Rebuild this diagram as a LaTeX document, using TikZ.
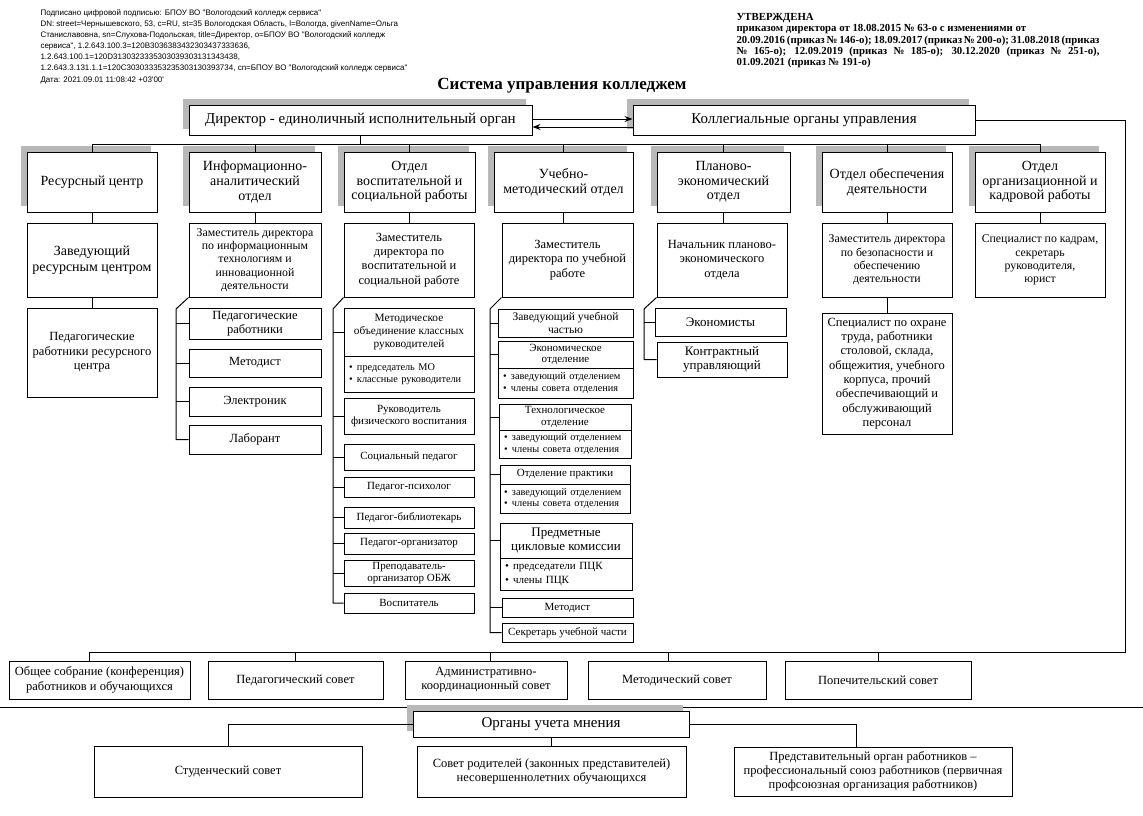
\documentclass[tikz,border=0pt]{standalone}
\usepackage{fontspec}
\setmainfont{Liberation Serif}
\newfontfamily\signfont{Liberation Sans}
\usetikzlibrary{arrows.meta,shadows}
\newcommand\fs[2]{\fontsize{#1}{#2}\selectfont}
\newcommand\bl{\makebox[8pt][l]{\textbullet}}

\begin{document}
\begin{tikzpicture}[x=1pt,y=-1pt,>=Stealth,line width=1pt,
  box/.style={draw,fill=white,align=center,inner sep=1pt},
  shd/.style={drop shadow={shadow xshift=-6pt,shadow yshift=6pt,fill=black!28,opacity=1}},
  rc/.style n args={4}{at={({(#1+#3)/2},{(#2+#4)/2})},minimum width={#3-#1},minimum height={#4-#2}},
  lst/.style={draw,fill=white,align=left,inner xsep=0pt,inner ysep=1pt,text width=#1,font=\fs{10.3}{11.5}},
  fbig/.style={font=\fs{15}{17}},
  fdep/.style={font=\fs{14}{14.7}},
  fmid/.style={font=\fs{12.5}{14.3}},
  fsm/.style={font=\fs{11.8}{13.3}},
  ftn/.style={font=\fs{11}{12.4}}]
  \useasboundingbox (0,0) rectangle (1143,815);

  \node[anchor=north west,align=left,inner sep=0,font=\signfont\fs{8}{11.1}] (sig) at (40,9)
    {Подписано цифровой подписью: БПОУ ВО "Вологодский колледж сервиса"\\
     DN: street=Чернышевского, 53, c=RU, st=35 Вологодская Область, l=Вологда, givenName=Ольга\\
     Станиславовна, sn=Слухова-Подольская, title=Директор, o=БПОУ ВО "Вологодский колледж\\
     сервиса", 1.2.643.100.3=120B3036383432303437333636,\\
     1.2.643.100.1=120D3130323335303039303131343438,\\
     1.2.643.3.131.1.1=120C303033353235303130393734, cn=БПОУ ВО "Вологодский колледж сервиса"\\
     Дата: 2021.09.01 11:08:42 +03\textquotesingle 00\textquotesingle};
  \node[anchor=north west,align=left,inner sep=0,font=\bfseries\fs{10.8}{11.3}] (utv) at (736,13)
    {УТВЕРЖДЕНА\\
     приказом директора от 18.08.2015 № 63-о с изменениями от\\
     \makebox[363pt][s]{20.09.2016 (приказ № 146-о); 18.09.2017 (приказ № 200-о); 31.08.2018 (приказ}\\
     \makebox[363pt][s]{№ 165-о); 12.09.2019 (приказ № 185-о); 30.12.2020 (приказ № 251-о),}\\
     01.09.2021 (приказ № 191-о)};
  \node[font=\bfseries\fs{17}{20}] (ttl) at (562,86) {Система управления колледжем};

  \node[box,shd,fbig,rc={189}{105}{532}{135}] (dir) {Директор - единоличный исполнительный орган};
  \node[box,shd,fbig,rc={633}{105}{975}{135}] (kol) {Коллегиальные органы управления};
  \draw[-{Stealth[length=8pt,width=6pt]}] ([yshift=1pt]dir.east) -- ([yshift=1pt]kol.west);
  \draw[-{Stealth[length=8pt,width=6pt]}] ([yshift=-7pt]kol.west) -- ([yshift=-7pt]dir.east);

  \node[box,shd,fdep,rc={27}{152}{157}{212}] (d1) {Ресурсный центр};
  \node[box,shd,fdep,rc={189}{152}{321}{212}] (d2) {Информационно-\\аналитический\\отдел};
  \node[box,shd,fdep,rc={344}{152}{475}{212}] (d3) {Отдел\\воспитательной и\\социальной работы};
  \node[box,shd,fdep,rc={494}{152}{633}{212}] (d4) {Учебно-\\методический отдел};
  \node[box,shd,fdep,rc={657}{152}{790}{212}] (d5) {Планово-\\экономический\\отдел};
  \node[box,shd,fdep,rc={822}{152}{952}{212}] (d6) {Отдел обеспечения\\деятельности};
  \node[box,shd,fdep,rc={975}{152}{1105}{212}] (d7) {Отдел\\организационной и\\кадровой работы};
  \coordinate (bus) at (0,144);
  \draw (dir.south) -- (dir.south |- bus);
  \draw (d1.north) -- (d1.north |- bus) -- (d7.north |- bus) -- (d7.north);
  \foreach \n in {d2,d3,d4,d5,d6} \draw (\n.north) -- (\n.north |- bus);

  \node[box,font=\fs{14}{16},rc={27}{223}{157}{297}] (z1) {Заведующий\\ресурсным центром};
  \node[box,fsm,rc={189}{223}{321}{297}] (z2) {Заместитель директора\\по информационным\\технологиям и\\инновационной\\деятельности};
  \node[box,fmid,rc={344}{223}{474}{297}] (z3) {Заместитель\\директора по\\воспитательной и\\социальной работе};
  \node[box,fmid,rc={502}{223}{633}{297}] (z4) {Заместитель\\директора по учебной\\работе};
  \node[box,fmid,rc={657}{223}{787}{297}] (z5) {Начальник планово-\\экономического\\отдела};
  \node[box,fsm,rc={822}{223}{952}{297}] (z6) {Заместитель директора\\по безопасности и\\обеспечению\\деятельности};
  \node[box,fsm,rc={975}{223}{1105}{297}] (z7) {Специалист по кадрам,\\секретарь\\руководителя,\\юрист};
  \foreach \i in {1,...,7} \draw (d\i.south) -- (d\i.south |- z\i.north);

  \node[box,fmid,rc={27}{308}{157}{397}] (p1) {Педагогические\\работники ресурсного\\центра};
  \draw (z1.south) -- (z1.south |- p1.north);

  \node[box,fmid,rc={189}{308}{321}{339}] (i1) {Педагогические\\работники};
  \node[box,fmid,rc={189}{349}{321}{377}] (i2) {Методист};
  \node[box,fmid,rc={189}{387}{321}{416}] (i3) {Электроник};
  \node[box,fmid,rc={189}{425}{321}{454}] (i4) {Лаборант};
  \coordinate (br2) at (176,309);
  \draw (z2.south west) -- (br2) |- (i4.west);
  \foreach \n in {i1,i2,i3} \draw (\n.west) -- (\n.west -| br2);

  \node[box,font=\fs{11.3}{12.6},rc={344}{308}{474}{356}] (v1) {Методическое\\объединение классных\\руководителей};
  \node[lst=120pt,rc={344}{356}{474}{392}] (v1l) {\bl председатель МО\\\bl классные руководители};
  \node[box,ftn,rc={344}{398}{474}{434}] (v2) {Руководитель\\физического воспитания};
  \node[box,ftn,rc={344}{444}{474}{470}] (v3) {Социальный педагог};
  \node[box,ftn,rc={344}{477}{474}{497}] (v4) {Педагог-психолог};
  \node[box,ftn,rc={344}{507}{474}{528}] (v5) {Педагог-библиотекарь};
  \node[box,ftn,rc={344}{533}{474}{554}] (v6) {Педагог-организатор};
  \node[box,font=\fs{11}{12},rc={344}{560}{474}{586}] (v7) {Преподаватель-\\организатор ОБЖ};
  \node[box,ftn,rc={344}{593}{474}{613}] (v8) {Воспитатель};
  \coordinate (br3) at (333,309);
  \draw (z3.south west) -- (br3) |- (v8.west);
  \foreach \n in {v1,v2,v3,v4,v5,v6,v7} \draw (\n.west) -- (\n.west -| br3);

  \node[box,font=\fs{11.5}{12.7},rc={498}{309}{633}{337}] (u1) {Заведующий учебной\\частью};
  \node[box,font=\fs{11}{11.5},rc={498}{341}{633}{368}] (u2) {Экономическое\\отделение};
  \node[lst=125pt,rc={498}{368}{633}{398}] (u2l) {\bl заведующий отделением\\\bl члены совета отделения};
  \node[box,font=\fs{11}{11.5},rc={499}{404}{631}{430}] (u3) {Технологическое\\отделение};
  \node[lst=122pt,rc={499}{430}{631}{458}] (u3l) {\bl заведующий отделением\\\bl члены совета отделения};
  \node[box,ftn,rc={500}{465}{630}{484}] (u4) {Отделение практики};
  \node[lst=122pt,rc={500}{484}{630}{513}] (u4l) {\bl заведующий отделением\\\bl члены совета отделения};
  \node[box,font=\fs{13}{14},rc={500}{523}{632}{558}] (u5) {Предметные\\цикловые комиссии};
  \node[lst=122pt,font=\fs{11}{14},rc={500}{558}{632}{590}] (u5l) {\bl председатели ПЦК\\\bl члены ПЦК};
  \node[box,ftn,rc={502}{598}{633}{617}] (u6) {Методист};
  \node[box,ftn,rc={502}{623}{633}{642}] (u7) {Секретарь учебной части};
  \coordinate (br4) at (490,309);
  \draw (z4.south west) -- (br4) |- (u7.west);
  \foreach \n in {u1,u2,u3,u4,u5,u6} \draw (\n.west) -- (\n.west -| br4);

  \node[box,font=\fs{13}{14.3},rc={655}{308}{786}{336}] (e1) {Экономисты};
  \node[box,font=\fs{13}{14.3},rc={657}{342}{787}{377}] (e2) {Контрактный\\управляющий};
  \coordinate (br5) at (644,309);
  \draw (z5.south west) -- (br5) |- (e2.west);
  \draw (e1.west) -- (e1.west -| br5);

  \node[box,fmid,rc={822}{313}{952}{434}] (s1) {Специалист по охране\\труда, работники\\столовой, склада,\\общежития, учебного\\корпуса, прочий\\обеспечивающий и\\обслуживающий\\персонал};
  \draw (z6.south) -- (z6.south |- s1.north);

  \node[box,fmid,rc={9}{661}{190}{699}] (b1) {Общее собрание (конференция)\\работников и обучающихся};
  \node[box,fmid,rc={208}{661}{383}{699}] (b2) {Педагогический совет};
  \node[box,fmid,rc={405}{661}{567}{699}] (b3) {Административно-\\координационный совет};
  \node[box,fmid,rc={588}{661}{766}{699}] (b4) {Методический совет};
  \node[box,fmid,rc={785}{661}{971}{699}] (b5) {Попечительский совет};
  \coordinate (rb) at (1125,652);
  \draw (kol.east) -| (rb) -- ([xshift=-10]b1.north |- rb);
  \foreach \n/\dx in {b1/-10,b2/0,b3/4,b4/-9,b5/0} \draw ([xshift=\dx]\n.north) -- ([xshift=\dx]\n.north |- rb);

  \draw (0,707) -- (1143,707);

  \node[box,shd,fbig,rc={413}{711}{689}{737}] (org) {Органы учета мнения};
  \node[box,fmid,rc={94}{746}{362}{797}] (st) {Студенческий совет};
  \node[box,fmid,rc={417}{746}{686}{797}] (par) {Совет родителей (законных представителей)\\несовершеннолетних обучающихся};
  \node[box,fmid,rc={734}{747}{1012}{796}] (rep) {Представительный орган работников –\\профессиональный союз работников (первичная\\профсоюзная организация работников)};
  \draw (org.west) -| (st.north);
  \draw (org.south) -- (org.south |- par.north);
  \draw (org.east) -| ([xshift=-17]rep.north);
\end{tikzpicture}
\end{document}
